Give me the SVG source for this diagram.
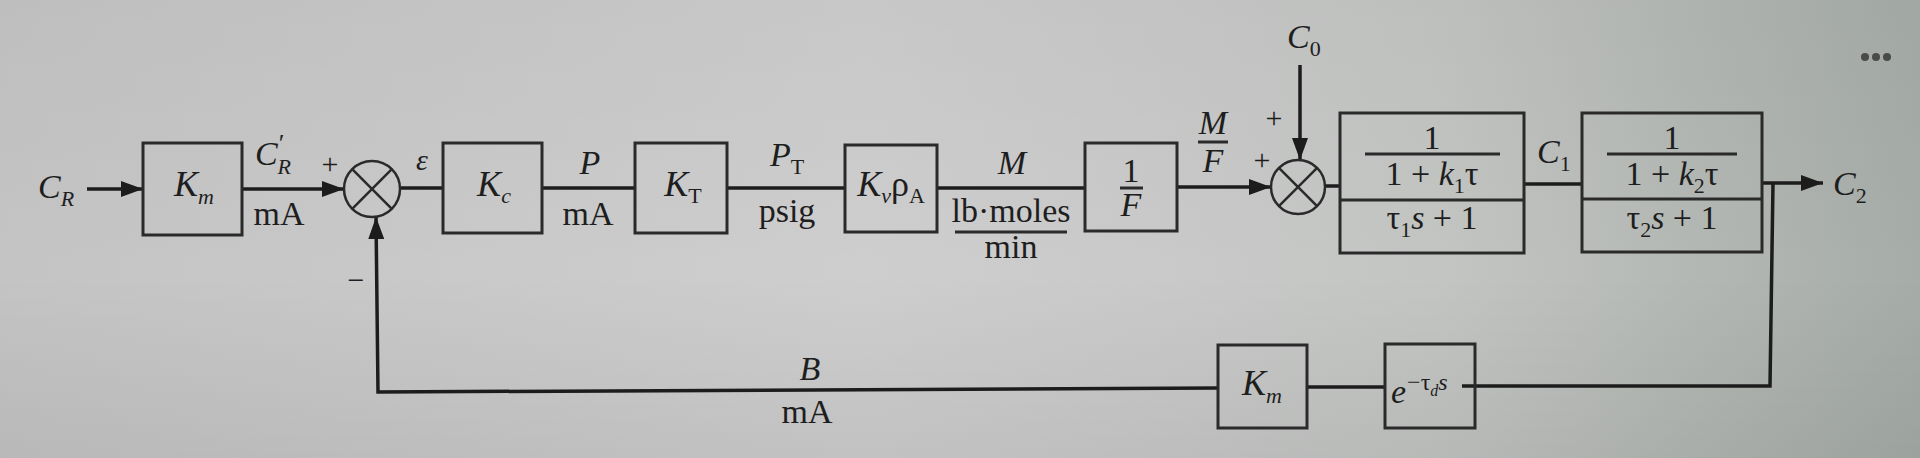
<svg xmlns="http://www.w3.org/2000/svg" width="1920" height="458" viewBox="0 0 1920 458">
<defs>
<linearGradient id="bg" x1="0" y1="0" x2="1" y2="0">
<stop offset="0" stop-color="#c4c4c4"/>
<stop offset="0.45" stop-color="#cecece"/>
<stop offset="0.75" stop-color="#c3c5c3"/>
<stop offset="1" stop-color="#a6aca7"/>
</linearGradient>
<linearGradient id="shade" x1="0" y1="0" x2="0" y2="1">
<stop offset="0" stop-color="#000" stop-opacity="0.03"/>
<stop offset="0.6" stop-color="#000" stop-opacity="0"/>
<stop offset="1" stop-color="#000" stop-opacity="0.06"/>
</linearGradient>
<marker id="ah" viewBox="0 0 22 16" refX="22" refY="8" markerWidth="22" markerHeight="16" markerUnits="userSpaceOnUse" orient="auto">
<path d="M0,0 L22,8 L0,16 z" fill="#1c1c1c"/>
</marker>
<style>
.box{fill:none;stroke:#2a2a2a;stroke-width:3}
.ln{fill:none;stroke:#1c1c1c;stroke-width:3.5}
.sum{fill:none;stroke:#2a2a2a;stroke-width:2.5}
.bar{stroke:#2a2a2a;stroke-width:3}
text{font-family:"Liberation Serif","Times New Roman",serif;fill:#1e1e1e;font-size:34px}
.it{font-style:italic}
.big{font-size:36px}
.sub{font-size:22px}
.sg{font-size:30px}
.mid{text-anchor:middle}
</style>
</defs>
<rect width="1920" height="458" fill="url(#bg)"/>
<rect width="1920" height="458" fill="url(#shade)"/>

<g id="connectors">
<line class="ln" x1="87" y1="189" x2="143" y2="189" marker-end="url(#ah)"/>
<line class="ln" x1="242" y1="189" x2="344" y2="189" marker-end="url(#ah)"/>
<line class="ln" x1="400" y1="188" x2="443" y2="188"/>
<line class="ln" x1="542" y1="188" x2="635" y2="188"/>
<line class="ln" x1="727" y1="188" x2="845" y2="188"/>
<line class="ln" x1="937" y1="188" x2="1085" y2="188"/>
<line class="ln" x1="1177" y1="187" x2="1271" y2="187" marker-end="url(#ah)"/>
<line class="ln" x1="1300" y1="65" x2="1300" y2="160" marker-end="url(#ah)"/>
<line class="ln" x1="1325" y1="186" x2="1340" y2="186"/>
<line class="ln" x1="1524" y1="184" x2="1582" y2="184"/>
<line class="ln" x1="1762" y1="183" x2="1823" y2="183" marker-end="url(#ah)"/>
<polyline class="ln" points="1773,183 1770,386 1462,386"/>
<line class="ln" x1="1385" y1="387" x2="1307" y2="387"/>
<polyline class="ln" points="1218,388 378,392 376,217" marker-end="url(#ah)"/>
</g>

<g id="input-CR">
<text class="it" x="38" y="198">C<tspan class="sub" dy="8">R</tspan></text>
</g>

<g id="node-Km">
<rect class="box" x="143" y="143" width="99" height="92"/>
<text class="it big mid" x="194" y="196">K<tspan class="sub" dy="8">m</tspan></text>
</g>

<g id="label-CR-prime">
<text class="it" x="255" y="165">C<tspan font-style="normal" font-size="26" dx="1" dy="-13">′</tspan><tspan class="sub" dx="-7" dy="22">R</tspan></text>
<text class="sg mid" x="330" y="174">+</text>
<text class="mid" x="279" y="225">mA</text>
</g>

<g id="sum1">
<circle class="sum" cx="372" cy="189" r="28"/>
<line class="sum" x1="352.2" y1="169.2" x2="391.8" y2="208.8"/>
<line class="sum" x1="391.8" y1="169.2" x2="352.2" y2="208.8"/>
<text class="sg mid" x="356" y="290">−</text>
</g>

<g id="label-eps">
<text class="it sg mid" x="422" y="170">ε</text>
</g>

<g id="node-Kc">
<rect class="box" x="443" y="143" width="99" height="90"/>
<text class="it big mid" x="494" y="196">K<tspan class="sub" dy="7">c</tspan></text>
</g>

<g id="label-P">
<text class="it mid" x="590" y="174">P</text>
<text class="mid" x="588" y="225">mA</text>
</g>

<g id="node-KT">
<rect class="box" x="635" y="143" width="92" height="90"/>
<text class="it big mid" x="683" y="196">K<tspan class="sub" font-style="normal" dy="7">T</tspan></text>
</g>

<g id="label-PT">
<text class="it mid" x="787" y="166">P<tspan class="sub" font-style="normal" dy="8">T</tspan></text>
<text class="mid" x="787" y="222">psig</text>
</g>

<g id="node-Kv">
<rect class="box" x="845" y="145" width="92" height="87"/>
<text class="big mid" x="891" y="196"><tspan class="it">K</tspan><tspan class="sub it" dy="7">v</tspan><tspan dy="-7">ρ</tspan><tspan class="sub" dy="7">A</tspan></text>
</g>

<g id="label-M">
<text class="it mid" x="1012" y="174">M</text>
<text class="mid" x="1011" y="222">lb·moles</text>
<line class="bar" x1="955" y1="232" x2="1067" y2="232"/>
<text class="mid" x="1011" y="258">min</text>
</g>

<g id="node-invF">
<rect class="box" x="1085" y="143" width="92" height="88"/>
<text class="mid" x="1131" y="182">1</text>
<line class="bar" x1="1120" y1="188" x2="1143" y2="188"/>
<text class="it mid" x="1131" y="216">F</text>
</g>

<g id="label-MF">
<text class="it mid" x="1213" y="134">M</text>
<line class="bar" x1="1198" y1="142" x2="1228" y2="142"/>
<text class="it mid" x="1213" y="172">F</text>
</g>

<g id="sum2">
<circle class="sum" cx="1298" cy="187" r="27"/>
<line class="sum" x1="1278.9" y1="167.9" x2="1317.1" y2="206.1"/>
<line class="sum" x1="1317.1" y1="167.9" x2="1278.9" y2="206.1"/>
<text class="sg mid" x="1274" y="128">+</text>
<text class="sg mid" x="1262" y="170">+</text>
</g>

<g id="input-C0">
<text class="it" x="1287" y="48">C<tspan class="sub" font-style="normal" dy="8">0</tspan></text>
</g>

<g id="node-tank1">
<rect class="box" x="1340" y="113" width="184" height="140"/>
<line class="bar" x1="1340" y1="200" x2="1524" y2="200"/>
<text class="mid" x="1432" y="149">1</text>
<line class="bar" x1="1365" y1="154" x2="1500" y2="154"/>
<text class="mid" x="1432" y="185">1 + <tspan class="it">k</tspan><tspan class="sub" dy="8">1</tspan><tspan dy="-8">τ</tspan></text>
<text class="mid" x="1432" y="229">τ<tspan class="sub" dy="8">1</tspan><tspan class="it" dy="-8">s</tspan> + 1</text>
</g>

<g id="label-C1">
<text class="it" x="1537" y="163">C<tspan class="sub" font-style="normal" dy="8">1</tspan></text>
</g>

<g id="node-tank2">
<rect class="box" x="1582" y="113" width="180" height="139"/>
<line class="bar" x1="1582" y1="199" x2="1762" y2="199"/>
<text class="mid" x="1672" y="149">1</text>
<line class="bar" x1="1607" y1="154" x2="1737" y2="154"/>
<text class="mid" x="1672" y="185">1 + <tspan class="it">k</tspan><tspan class="sub" dy="8">2</tspan><tspan dy="-8">τ</tspan></text>
<text class="mid" x="1672" y="229">τ<tspan class="sub" dy="8">2</tspan><tspan class="it" dy="-8">s</tspan> + 1</text>
</g>

<g id="output-C2">
<text class="it" x="1833" y="195">C<tspan class="sub" font-style="normal" dy="8">2</tspan></text>
</g>

<g id="node-Km-feedback">
<rect class="box" x="1218" y="345" width="89" height="83"/>
<text class="it big mid" x="1262" y="395">K<tspan class="sub" dy="8">m</tspan></text>
</g>

<g id="node-delay">
<rect class="box" x="1385" y="344" width="90" height="84"/>
<text class="it" x="1391" y="403">e<tspan font-style="normal" font-size="24" dx="1" dy="-13">−τ</tspan><tspan font-size="16" dy="6">d</tspan><tspan font-size="24" dy="-6">s</tspan></text>
</g>

<g id="label-B">
<text class="it mid" x="810" y="380">B</text>
<text class="mid" x="807" y="423">mA</text>
</g>

<g id="dots">
<circle cx="1865" cy="57" r="4" fill="#4a4a4a"/>
<circle cx="1876" cy="57" r="4" fill="#4a4a4a"/>
<circle cx="1887" cy="57" r="4" fill="#4a4a4a"/>
</g>
</svg>
